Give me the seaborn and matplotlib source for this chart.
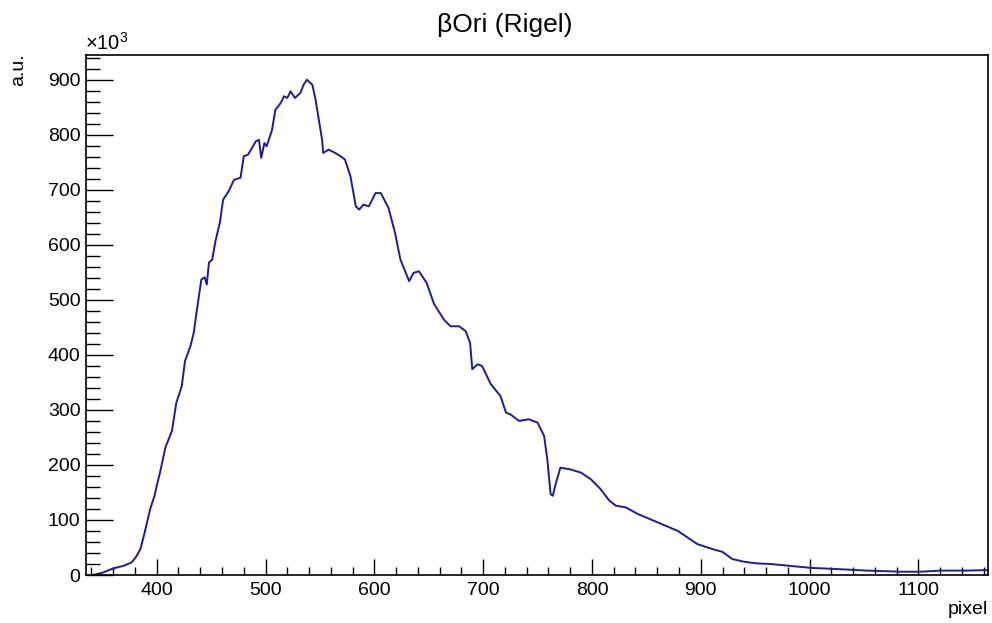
import numpy as np
import pandas as pd
import matplotlib
matplotlib.use('Agg')
import matplotlib.pyplot as plt
from matplotlib.ticker import MultipleLocator
import seaborn as sns

# Spettro di Rigel (valori in unita di 10^3)
pixel = [341, 350, 360, 370, 377, 381, 385, 389, 394, 398, 400, 403, 408, 414,
         418, 423, 426, 431, 434, 437, 441, 444, 446, 448, 451, 454, 458, 461,
         466, 471, 477, 480, 484, 491, 494, 496, 499, 501, 506, 509, 514, 517,
         520, 523, 527, 532, 535, 538, 543, 546, 549, 552, 553, 558, 564, 569,
         573, 578, 583, 586, 590, 595, 601, 606, 613, 619, 624, 632, 636, 641,
         648, 655, 664, 670, 678, 684, 688, 690, 695, 699, 707, 716, 721, 725,
         733, 742, 750, 756, 759, 762, 764, 767, 771, 780, 790, 799, 808, 816,
         822, 831, 842, 860, 879, 888, 897, 911, 920, 929, 940, 952, 964, 980,
         1001, 1023, 1053, 1084, 1102, 1121, 1145, 1164]
counts = [0, 4, 12, 17, 23, 33, 47, 78, 120, 144, 162, 186, 232, 262,
          313, 343, 389, 416, 440, 483, 537, 541, 528, 568, 573, 607, 640, 682,
          697, 718, 722, 761, 764, 788, 791, 758, 785, 779, 809, 845, 858, 870,
          867, 879, 867, 876, 891, 900, 891, 864, 827, 791, 767, 773, 767, 761,
          755, 725, 670, 664, 673, 670, 694, 694, 667, 622, 573, 534, 549, 552,
          531, 492, 464, 452, 452, 443, 422, 374, 383, 380, 347, 325, 295, 292,
          280, 283, 277, 253, 210, 147, 144, 168, 195, 192, 186, 174, 156, 135,
          126, 123, 111, 96, 80, 68, 56, 47, 42, 29, 24, 21, 20, 17,
          13, 11, 8, 6, 6, 8, 8, 9]

df = pd.DataFrame({'pixel': pixel, 'counts': counts})

sns.set_style('ticks')
plt.rcParams['font.family'] = ['Liberation Sans', 'DejaVu Sans']
plt.rcParams['mathtext.fontset'] = 'custom'
plt.rcParams['mathtext.rm'] = 'Liberation Sans'
plt.rcParams['text.color'] = 'black'
plt.rcParams['xtick.color'] = 'black'
plt.rcParams['ytick.color'] = 'black'

fig = plt.figure(figsize=(9.92, 6.23), dpi=100)
ax = fig.add_axes([86 / 992, 48 / 623, 902 / 992, 520 / 623])

sns.lineplot(data=df, x='pixel', y='counts', color='#1c1c9a', linewidth=1.4,
             estimator=None, ax=ax)

ax.set_xlim(335, 1164)
ax.set_ylim(0, 945)
ax.set_xlabel('')
ax.set_ylabel('')

ax.xaxis.set_major_locator(MultipleLocator(100))
ax.xaxis.set_minor_locator(MultipleLocator(20))
ax.yaxis.set_major_locator(MultipleLocator(100))
ax.yaxis.set_minor_locator(MultipleLocator(20))

ax.tick_params(axis='x', which='major', direction='in', length=11.5, width=1,
               labelsize=14, pad=5, top=False)
ax.tick_params(axis='x', which='minor', direction='in', length=5.8, width=1, top=False)
ax.tick_params(axis='y', which='major', direction='in', length=19.4, width=1,
               labelsize=14, pad=4, right=False)
ax.tick_params(axis='y', which='minor', direction='in', length=10, width=1, right=False)

for s in ax.spines.values():
    s.set_visible(True)
    s.set_color('black')
    s.set_linewidth(1.2)

fig.text(505 / 992, 1 - 25 / 623, 'βOri (Rigel)', ha='center', va='center', fontsize=19)
fig.text(85 / 992, 1 - 54 / 623, r'$\times10^{3}$', ha='left', va='bottom', fontsize=14.5)
fig.text(19 / 992, 1 - 53 / 623, 'a.u.', rotation=90, ha='center', va='top', fontsize=14)
fig.text(988 / 992, 1 - 609 / 623, 'pixel', ha='right', va='center', fontsize=14)

fig.savefig('out.png', dpi=100, facecolor='white')
